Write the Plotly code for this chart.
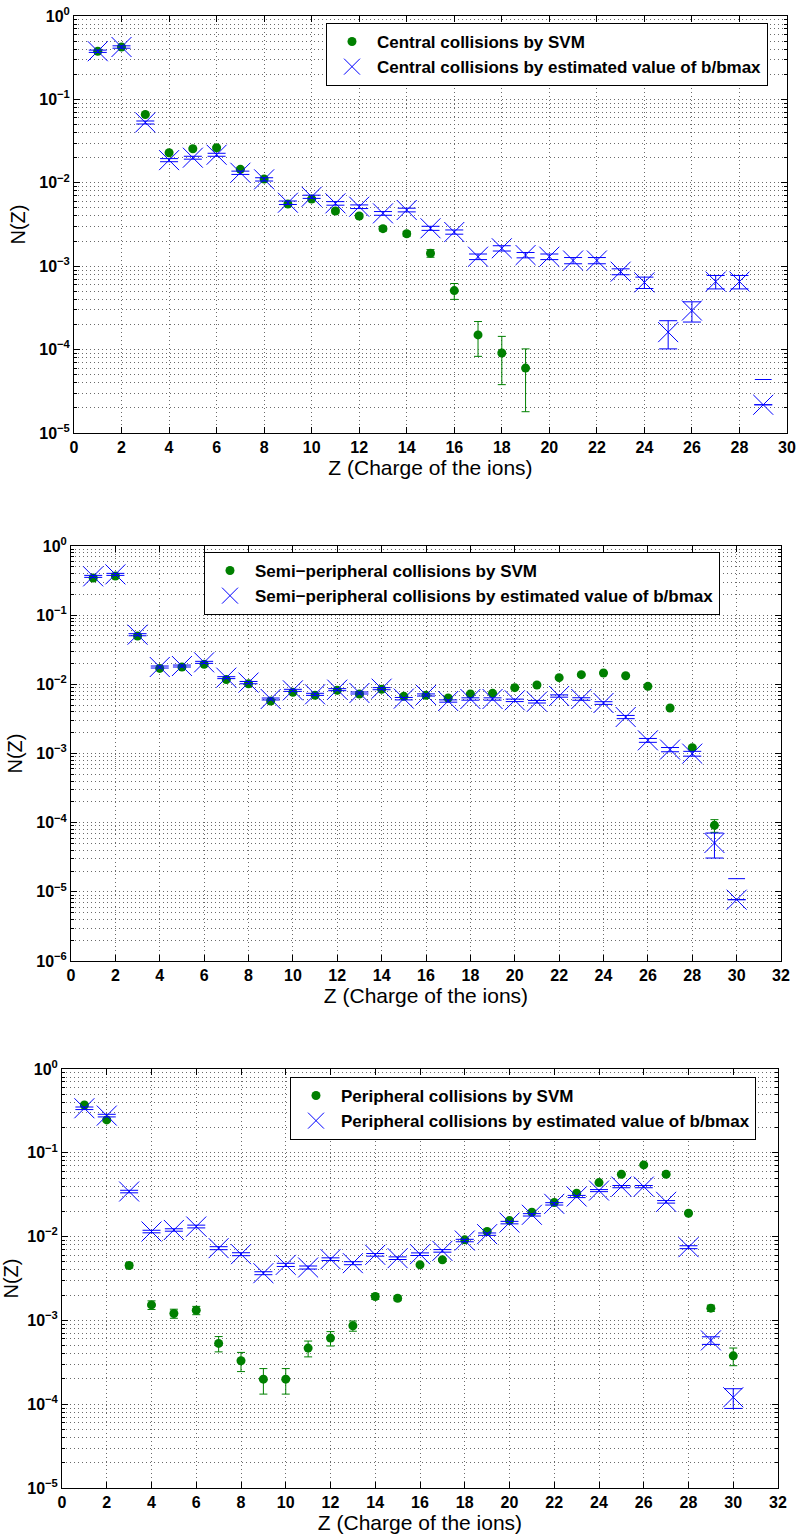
import numpy as np
import plotly.graph_objects as go

# ---------------- data ----------------
z1 = list(range(1, 20))
g1 = [0.378, 0.425, 0.0659, 0.0229, 0.0256, 0.0263, 0.0145, 0.0111, 0.00556, 0.00638,
      0.00459, 0.0040, 0.00282, 0.00245, 0.00143, 0.00051, 0.000150, 0.000091, 0.000060]
g1_err = [0.008, 0.009, 0.002, 0.0008, 0.0009, 0.0009, 0.0006, 0.0005, 0.0003, 0.0003,
          0.00025, 0.00022, 0.00018, 0.00016, 0.00015, 0.00011, 0.000067, 0.000053, 0.000042]
zb1 = list(range(1, 30))
b1 = [0.378, 0.425, 0.0529, 0.0187, 0.0200, 0.0217, 0.0132, 0.0110, 0.00577, 0.0068,
      0.00567, 0.00517, 0.0043, 0.00472, 0.00285, 0.00257, 0.0013, 0.00164, 0.00136, 0.0013,
      0.00117, 0.00117, 0.00086, 0.00064, 0.000162, 0.000294, 0.000654, 0.000654, 0.0000218]
b1_err = [0.012, 0.014, 0.0022, 0.0008, 0.0008, 0.0009, 0.0006, 0.0005, 0.00028, 0.0003,
          0.00028, 0.00026, 0.00022, 0.00024, 0.00016, 0.00015, 0.0001, 0.00012, 0.0001, 0.0001,
          0.0001, 0.0001, 0.00007, 0.0001, 0.00006, 0.00008, 0.00012, 0.00012, 0.000022]

z2 = list(range(1, 30))
g2 = [0.344, 0.368, 0.050, 0.0170, 0.0178, 0.0195, 0.0117, 0.0102, 0.00574, 0.00766,
      0.00693, 0.00819, 0.00725, 0.00847, 0.0067, 0.00693, 0.00634, 0.00725, 0.00741, 0.00895,
      0.00978, 0.01248, 0.0138, 0.0146, 0.0133, 0.00935, 0.00455, 0.00121, 0.0000915]
g2_err = [0.01, 0.01, 0.0015, 0.0005, 0.0005, 0.0005, 0.0003, 0.0003, 0.00018, 0.0002,
          0.0002, 0.0002, 0.0002, 0.0002, 0.0002, 0.0002, 0.0002, 0.0002, 0.0002, 0.0002,
          0.0002, 0.0003, 0.0003, 0.0003, 0.0003, 0.0002, 0.00012, 0.00006, 0.000019]
zb2 = list(range(1, 31))
b2 = [0.364, 0.389, 0.0522, 0.0178, 0.0184, 0.0208, 0.0125, 0.0106, 0.00614, 0.00819,
      0.00717, 0.00838, 0.00750, 0.00866, 0.00621, 0.00702, 0.00574, 0.00614, 0.00614, 0.00587,
      0.00561, 0.00678, 0.00614, 0.00537, 0.00337, 0.00155, 0.00114, 0.000995, 0.0000508, 0.0000077]
b2_err = [0.012, 0.013, 0.0018, 0.0006, 0.0006, 0.0007, 0.0004, 0.0004, 0.0002, 0.00028,
          0.00025, 0.00028, 0.00025, 0.0003, 0.00025, 0.00025, 0.00022, 0.00024, 0.00024, 0.00024,
          0.00024, 0.00026, 0.00026, 0.00024, 0.00018, 0.0001, 0.00008, 0.00008, 0.00002, 0.0000078]

z3 = list(range(1, 31))
g3 = [0.372, 0.247, 0.00452, 0.00153, 0.00121, 0.00132, 0.000531, 0.00033, 0.000199, 0.000199,
      0.000467, 0.000615, 0.000863, 0.00193, 0.00184, 0.0046, 0.00528, 0.00914, 0.0115, 0.01554,
      0.01954, 0.0255, 0.0329, 0.0441, 0.0555, 0.0717, 0.0555, 0.019, 0.0014, 0.000378]
g3_err = [0.015, 0.01, 0.0003, 0.00018, 0.00015, 0.00015, 0.00011, 0.000085, 0.000067, 0.000067,
          0.0001, 0.00012, 0.00012, 0.00015, 0.00012, 0.0002, 0.0002, 0.0003, 0.0003, 0.0004,
          0.0005, 0.0006, 0.0006, 0.0008, 0.0009, 0.001, 0.001, 0.0005, 0.00012, 0.00009]
b3 = [0.340, 0.278, 0.0345, 0.0115, 0.0120, 0.0132, 0.00728, 0.00617, 0.00366, 0.0046,
      0.00428, 0.00538, 0.00482, 0.00606, 0.00553, 0.00617, 0.00676, 0.00898, 0.0107, 0.0147,
      0.0182, 0.0246, 0.0301, 0.0354, 0.0395, 0.0395, 0.026, 0.00748, 0.000577, 0.000121]
b3_err = [0.012, 0.01, 0.0012, 0.0004, 0.0004, 0.0005, 0.0003, 0.00025, 0.00015, 0.0002,
          0.00018, 0.0002, 0.0002, 0.00022, 0.0002, 0.00022, 0.00024, 0.0003, 0.00035, 0.0005,
          0.0006, 0.0008, 0.0009, 0.001, 0.0012, 0.0012, 0.0009, 0.0003, 0.00006, 0.000032]

legend_svm = ["Central collisions by SVM", "Semi\u2212peripheral collisions by SVM",
              "Peripheral collisions by SVM"]
legend_b = ["Central collisions by estimated value of b/bmax",
            "Semi\u2212peripheral collisions by estimated value of b/bmax",
            "Peripheral collisions by estimated value of b/bmax"]
x_title = "Z (Charge of the ions)"
y_title = "N(Z)"
y_exps = [[-5, -4, -3, -2, -1, 0], [-6, -5, -4, -3, -2, -1, 0], [-5, -4, -3, -2, -1, 0]]
x_ticks = [list(range(0, 31, 2)), list(range(0, 33, 2)), list(range(0, 33, 2))]

# ---------------- styling ----------------
GREEN = "#008000"
BLUE = "#0000ff"
FONT = "Liberation Sans"
W, H = 797, 1537
GRIDC = "#6a6a6a"
GDASH = "1px,3px"

# pixel boxes of the three panels: (left, top, right, bottom)
boxes = [(74, 16, 787, 433), (71, 546, 781, 961), (62, 1069, 778, 1488)]
legend_pos = [(326, 23), (204, 552), (290, 1077)]

fig = go.Figure()

panels = [
    (z1, g1, g1_err, zb1, b1, b1_err),
    (z2, g2, g2_err, zb2, b2, b2_err),
    (z3, g3, g3_err, z3, b3, b3_err),
]


def split_err(vals, errs):
    main, caps = [], []
    for i, (v, e) in enumerate(zip(vals, errs)):
        if v - e > 0:
            main.append(e)
        else:
            main.append(np.nan)
            caps.append(i)
    return main, caps


def minus(e):
    return str(e).replace("-", "\u2212")


for k, (zg, g, ge, zb, b, be) in enumerate(panels):
    n = k + 1
    xa = "x" if n == 1 else f"x{n}"
    ya = "y" if n == 1 else f"y{n}"
    lg = "legend" if n == 1 else f"legend{n}"

    ge_main, g_caps = split_err(g, ge)
    fig.add_trace(go.Scatter(
        x=zg, y=g, mode="markers", name=legend_svm[k], legend=lg,
        xaxis=xa, yaxis=ya,
        marker=dict(symbol="circle", size=9, color=GREEN),
        error_y=dict(type="data", array=ge_main, visible=True, color=GREEN,
                     thickness=1, width=4),
    ))
    be_main, b_caps = split_err(b, be)
    fig.add_trace(go.Scatter(
        x=zb, y=b, mode="markers", name=legend_b[k], legend=lg,
        xaxis=xa, yaxis=ya,
        marker=dict(symbol="x-thin", size=20, color=BLUE, line=dict(color=BLUE, width=1)),
        error_y=dict(type="data", array=be_main, visible=True, color=BLUE,
                     thickness=1, width=9),
    ))
    if b_caps:
        fig.add_trace(go.Scatter(
            x=[zb[i] for i in b_caps], y=[b[i] + be[i] for i in b_caps],
            mode="markers", showlegend=False, xaxis=xa, yaxis=ya,
            marker=dict(symbol="line-ew", size=12, color=BLUE,
                        line=dict(color=BLUE, width=1)),
        ))

    l, t, r, bt = boxes[k]
    grid = dict(showgrid=True, gridcolor=GRIDC, griddash=GDASH, gridwidth=1)
    xkey = "xaxis" if n == 1 else f"xaxis{n}"
    ykey = "yaxis" if n == 1 else f"yaxis{n}"
    fig.update_layout({
        xkey: dict(
            domain=[l / W, r / W], anchor=ya, range=[x_ticks[k][0], x_ticks[k][-1]],
            tickvals=x_ticks[k], ticktext=[f"<b>{v}</b>" for v in x_ticks[k]],
            showline=True, linecolor="black", linewidth=1, mirror="ticks",
            ticks="inside", ticklen=6, tickcolor="black", zeroline=False,
            automargin=False,
            tickfont=dict(family=FONT, size=16, color="black"),
            title=dict(text=x_title, font=dict(family=FONT, size=21, color="black"),
                       standoff=2),
            **grid,
        ),
        ykey: dict(
            domain=[1 - bt / H, 1 - t / H], anchor=xa, type="log",
            range=[y_exps[k][0], y_exps[k][-1]],
            tickvals=[10.0 ** e for e in y_exps[k]],
            ticktext=[f"<b>10<sup>{minus(e)}</sup></b>" for e in y_exps[k]],
            showline=True, linecolor="black", linewidth=1, mirror="ticks",
            ticks="inside", ticklen=6, tickcolor="black", zeroline=False,
            automargin=False,
            tickfont=dict(family=FONT, size=16, color="black"),
            title=dict(text=y_title, font=dict(family=FONT, size=20, color="black"),
                       standoff=8),
            minor=dict(dtick="D1", showgrid=True, gridcolor=GRIDC, griddash=GDASH,
                       gridwidth=1, ticks="inside", ticklen=3, tickcolor="black"),
            **grid,
        ),
        lg: dict(
            x=legend_pos[k][0] / W, y=1 - legend_pos[k][1] / H,
            xanchor="left", yanchor="top",
            bgcolor="white", bordercolor="black", borderwidth=1,
            font=dict(family=FONT, size=17, color="black", weight="bold"),
            tracegroupgap=0, itemsizing="trace", itemwidth=40,
        ),
    })

fig.update_layout(
    width=W, height=H, margin=dict(l=0, r=0, t=0, b=0),
    paper_bgcolor="white", plot_bgcolor="white", showlegend=True,
)

fig.write_html("out.html")
